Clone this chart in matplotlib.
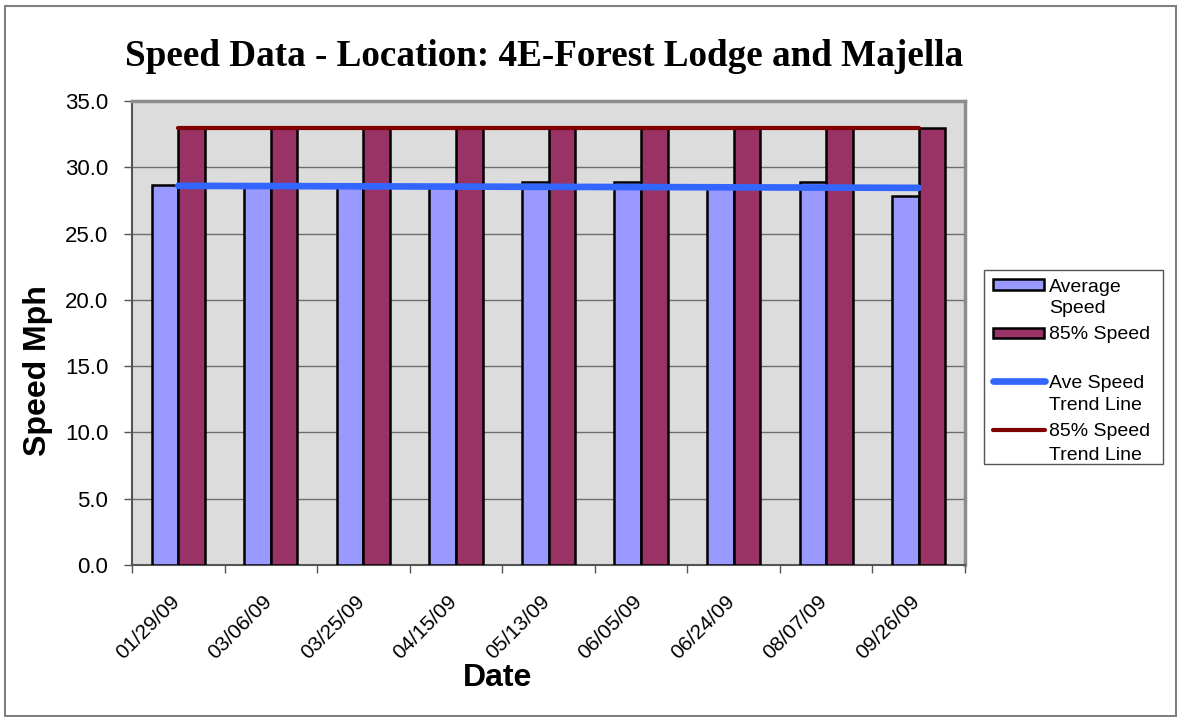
import matplotlib.pyplot as plt
import numpy as np
import matplotlib.transforms as mtransforms
from matplotlib.patches import Rectangle
from matplotlib.lines import Line2D

dates = ["01/29/09", "03/06/09", "03/25/09", "04/15/09", "05/13/09",
         "06/05/09", "06/24/09", "08/07/09", "09/26/09"]
avg_speed = [28.7, 28.6, 28.5, 28.5, 28.9, 28.9, 28.4, 28.9, 27.8]
p85_speed = [33.0, 33.0, 33.0, 33.0, 33.0, 33.0, 33.0, 33.0, 33.0]
# trend lines, value at first and last date
ave_trend = [28.6, 28.45]
p85_trend = [33.0, 33.0]

AVG_C = "#9999FF"
P85_C = "#993366"
AVE_TR_C = "#3366FF"
P85_TR_C = "#800000"

W, H = 1177, 717
x = np.arange(len(dates))
w = 0.287

fig = plt.figure(figsize=(W / 100, H / 100), dpi=100)


def fx(px):
    return px / W


def fy(py):
    return 1 - py / H


fig.patches.append(Rectangle((0.004, 0.002), 0.995, 0.99, transform=fig.transFigure,
                             fill=False, edgecolor="#808080", linewidth=1.5))
ax = fig.add_axes([fx(132), fy(565), fx(965) - fx(132), fy(101) - fy(565)])
ax.set_facecolor("#DCDCDC")

ax.bar(x - w / 2, avg_speed, w, color=AVG_C, edgecolor="black", linewidth=1.8, zorder=3)
ax.bar(x + w / 2, p85_speed, w, color=P85_C, edgecolor="black", linewidth=1.8, zorder=3)
ax.plot([x[0], x[-1]], ave_trend, color=AVE_TR_C, linewidth=4.8, solid_capstyle="round", zorder=4)
ax.plot([x[0], x[-1]], p85_trend, color=P85_TR_C, linewidth=3, solid_capstyle="round", zorder=4)

ax.set_xlim(-0.5, len(dates) - 0.5)
ax.set_ylim(0, 35)
yt = np.arange(0, 35.1, 5)
ax.set_yticks(yt)
ax.set_yticklabels([f"{v:.1f}" for v in yt], fontsize=16, family="Liberation Sans")
ax.yaxis.grid(True, color="#6E6E6E", linewidth=1, zorder=0)
ax.set_axisbelow(True)

ax.set_xticks(x)
ax.set_xticklabels(dates, rotation=45, ha="right", va="center", rotation_mode="anchor",
                   fontsize=15, family="Liberation Sans")
ax.tick_params(axis="x", length=0, pad=24)
shift = mtransforms.ScaledTranslation(-0.02, 0, fig.dpi_scale_trans)
for lab in ax.get_xticklabels():
    lab.set_transform(lab.get_transform() + shift)
ax.set_xticks(np.arange(-0.5, len(dates)), minor=True)
ax.tick_params(axis="x", which="minor", length=6, width=1, color="#555555")
ax.tick_params(axis="y", length=6, width=1, color="#555555", pad=11)

for s in ["top", "right"]:
    ax.spines[s].set_color("#8C8C8C")
    ax.spines[s].set_linewidth(2.5)
for s in ["left", "bottom"]:
    ax.spines[s].set_color("#555555")
    ax.spines[s].set_linewidth(1.5)

ax.set_xlabel("Date", fontsize=23, fontweight="bold", family="Liberation Sans", va="center")
ax.xaxis.set_label_coords(0.439, -0.2435)
ax.set_ylabel("Speed Mph", fontsize=23, fontweight="bold", family="Liberation Sans", va="center")
ax.yaxis.set_label_coords(-0.113, 0.418)
fig.text(fx(544), fy(57), "Speed Data - Location: 4E-Forest Lodge and Majella", ha="center", va="center",
         fontsize=26.7, fontweight="bold", family="Liberation Serif")

# legend box, drawn Excel style (handle level with first line of text)
fig.patches.append(Rectangle((fx(984), fy(464)), fx(1163) - fx(984), fy(270) - fy(464),
                             transform=fig.transFigure, facecolor="white", edgecolor="#555555", linewidth=1))
lfont = {"family": "Liberation Sans", "size": 14}
fig.patches.append(Rectangle((fx(993), fy(290)), fx(1044) - fx(993), fy(279) - fy(290),
                             transform=fig.transFigure, facecolor=AVG_C, edgecolor="black", linewidth=1.8))
fig.patches.append(Rectangle((fx(993), fy(338)), fx(1044) - fx(993), fy(328) - fy(338),
                             transform=fig.transFigure, facecolor=P85_C, edgecolor="black", linewidth=1.8))
fig.lines.append(Line2D([fx(993), fx(1045)], [fy(381), fy(381)], transform=fig.transFigure,
                        color=AVE_TR_C, linewidth=4.8, solid_capstyle="round"))
fig.lines.append(Line2D([fx(993), fx(1045)], [fy(430), fy(430)], transform=fig.transFigure,
                        color=P85_TR_C, linewidth=3, solid_capstyle="round"))
legend_rows = [("Average", 285), ("Speed", 307), ("85% Speed", 333), ("Ave Speed", 382),
               ("Trend Line", 404), ("85% Speed", 430), ("Trend Line", 453)]
for txt, py in legend_rows:
    fig.text(fx(1049), fy(py), txt, ha="left", va="center_baseline", **lfont)

fig.savefig("out.png", dpi=100)
